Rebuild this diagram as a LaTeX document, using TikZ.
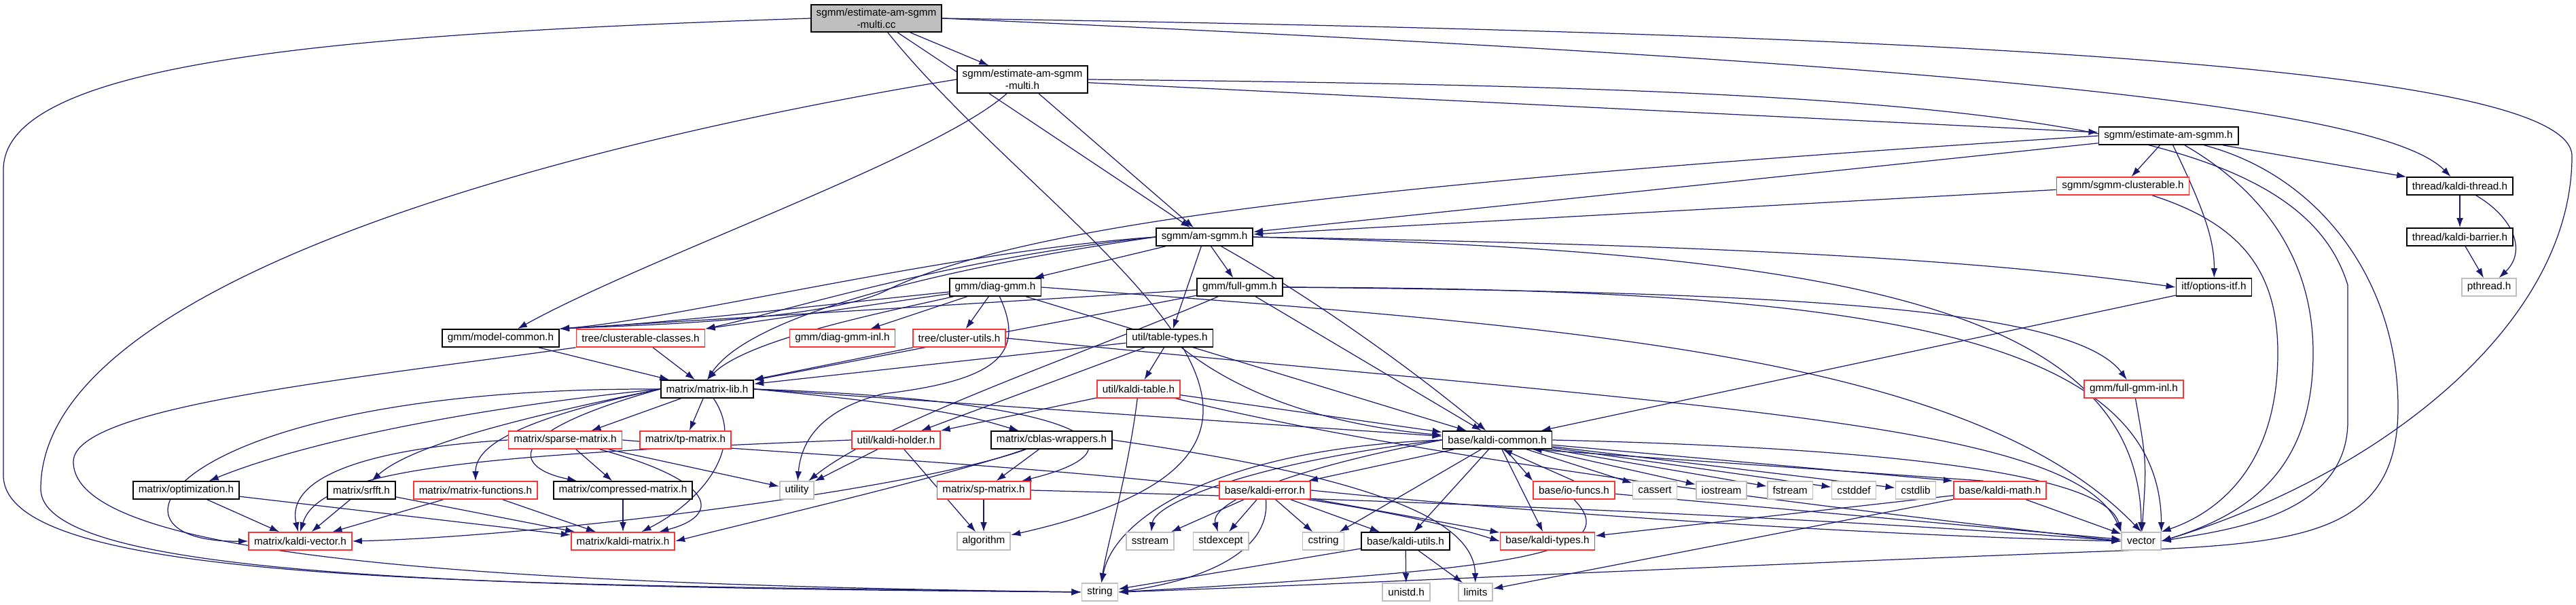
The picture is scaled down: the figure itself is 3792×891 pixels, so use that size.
\documentclass[tikz,border=0pt]{standalone}
\usepackage{fontspec}
\newfontfamily\dxfont{Liberation Sans}
\usepackage{tikz}
\usetikzlibrary{arrows.meta,positioning,calc,backgrounds}
\definecolor{edgeblue}{HTML}{191970}
\definecolor{truncred}{HTML}{FF3333}
\definecolor{sysgray}{HTML}{BFBFBF}

\begin{document}
\begin{tikzpicture}[
  x=0.02cm,y=-0.02cm,
  hdr/.style={draw=black,fill=white,line width=1pt,inner xsep=4.5pt,inner ysep=0pt,
    minimum height=14.7pt,font=\dxfont\fontsize{8.7}{10}\selectfont},
  trunc/.style={hdr,draw=truncred},
  sys/.style={hdr,draw=sysgray},
  root/.style={hdr,fill=sysgray,align=center,minimum height=22.7pt},
  arr/.style={-{Latex[length=8pt,width=5.5pt]},draw=edgeblue,line width=0.7pt}
]
\useasboundingbox (0,0) rectangle (3792,891);

% -------------------------
% Nodes, row by row
% -------------------------
\node[root] (cc) at (1290,27) {sgmm/estimate-am-sgmm\\-multi.cc};
\node[hdr,align=center,minimum height=22.7pt] (multih) at (1505,117) {sgmm/estimate-am-sgmm\\-multi.h};
\node[hdr] (estsgmm) at (3192,200) {sgmm/estimate-am-sgmm.h};
\node[trunc] (sgmmclust) at (3125,274) {sgmm/sgmm-clusterable.h};
\node[hdr] (kthread) at (3621,274) {thread/kaldi-thread.h};
\node[hdr] (amsgmm) at (1773,349) {sgmm/am-sgmm.h};
\node[hdr] (kbarrier) at (3621,349) {thread/kaldi-barrier.h};
\node[hdr] (diaggmm) at (1465,423) {gmm/diag-gmm.h};
\node[hdr] (fullgmm) at (1825,423) {gmm/full-gmm.h};
\node[hdr] (optitf) at (3259,423) {itf/options-itf.h};
\node[sys] (pthread) at (3664,423) {pthread.h};

\node[hdr] (modelcommon) at (737,498) {gmm/model-common.h};
\node[trunc] (clustclasses) at (943,498) {tree/clusterable-classes.h};
\node[trunc] (diaginl) at (1240,498) {gmm/diag-gmm-inl.h};
\node[trunc] (clustutils) at (1412,498) {tree/cluster-utils.h};
\node[hdr] (tabletypes) at (1722,498) {util/table-types.h};

\node[hdr] (matrixlib) at (1041,573) {matrix/matrix-lib.h};
\node[trunc] (kalditable) at (1676,573) {util/kaldi-table.h};
\node[trunc] (fullinl) at (3141,573) {gmm/full-gmm-inl.h};

\node[trunc] (sparse) at (832,648) {matrix/sparse-matrix.h};
\node[trunc] (tpmatrix) at (1009,648) {matrix/tp-matrix.h};
\node[trunc] (holder) at (1319,648) {util/kaldi-holder.h};
\node[hdr] (cblas) at (1548,648) {matrix/cblas-wrappers.h};
\node[hdr] (kcommon) at (2204,648) {base/kaldi-common.h};

\node[hdr] (optim) at (274,722) {matrix/optimization.h};
\node[hdr] (srfft) at (532,722) {matrix/srfft.h};
\node[trunc] (mfunc) at (700,722) {matrix/matrix-functions.h};
\node[hdr] (compressed) at (917,722) {matrix/compressed-matrix.h};
\node[sys] (utility) at (1173,722) {utility};
\node[trunc] (spmatrix) at (1448,722) {matrix/sp-matrix.h};
\node[trunc] (kerror) at (1862,722) {base/kaldi-error.h};
\node[trunc] (iofuncs) at (2317,722) {base/io-funcs.h};
\node[sys] (cassert) at (2436,722) {cassert};
\node[sys] (iostream) at (2534,722) {iostream};
\node[sys] (fstream) at (2635,722) {fstream};
\node[sys] (cstddef) at (2729,722) {cstddef};
\node[sys] (cstdlib) at (2820,722) {cstdlib};
\node[trunc] (kmath) at (2944,722) {base/kaldi-math.h};

\node[trunc] (kvector) at (442,797) {matrix/kaldi-vector.h};
\node[trunc] (kmatrix) at (917,797) {matrix/kaldi-matrix.h};
\node[sys] (algorithm) at (1448,797) {algorithm};
\node[sys] (sstream) at (1693,797) {sstream};
\node[sys] (stdexcept) at (1797,797) {stdexcept};
\node[sys] (cstring) at (1948,797) {cstring};
\node[hdr] (kutils) at (2069,797) {base/kaldi-utils.h};
\node[trunc] (ktypes) at (2278,797) {base/kaldi-types.h};
\node[sys] (vector) at (3152,797) {vector};

\node[sys] (string) at (1619,872) {string};
\node[sys] (unistd) at (2070,872) {unistd.h};
\node[sys] (limits) at (2172,872) {limits};

\begin{scope}[on background layer]
% -------------------------
% Source file and its headers
% -------------------------
\draw[arr] (cc) -- (multih);
\draw[arr] (cc) -- (amsgmm);
\draw[arr] (cc) .. controls (1550,350) and (2100,650) .. (algorithm);
\draw[arr] (cc.west) .. controls (500,50) and (5,90) .. (5,250) -- (5,700) .. controls (5,860) and (700,860) .. (string.west);
\draw[arr] (cc.east) .. controls (2800,90) and (3500,150) .. (kthread);
\draw[arr] (cc.east) .. controls (2900,50) and (3786,100) .. (3786,230) .. controls (3786,480) and (3500,700) .. (vector.east);

\draw[arr] (multih) -- (amsgmm);
\draw[arr] (multih) .. controls (1380,230) and (950,380) .. (modelcommon);
\draw[arr] (multih.west) .. controls (900,200) and (60,400) .. (60,720) .. controls (60,850) and (700,865) .. (string.west);
\draw[arr] (multih) -- (estsgmm);
\draw[arr] (multih.east) .. controls (2900,130) and (3380,170) .. (3456,420) -- (3456,620) .. controls (3456,760) and (3280,780) .. (vector.east);

\draw[arr] (estsgmm) -- (amsgmm);
\draw[arr] (estsgmm.west) .. controls (2000,270) and (1500,330) .. (1300,430) .. controls (1200,475) and (900,480) .. (modelcommon.north east);
\draw[arr] (estsgmm) -- (sgmmclust);
\draw[arr] (estsgmm) .. controls (3240,300) and (3260,350) .. (optitf);
\draw[arr] (estsgmm) -- (kthread);
\draw[arr] (estsgmm) .. controls (3330,280) and (3405,380) .. (3405,520) .. controls (3405,700) and (3300,760) .. (vector.east);
\draw[arr] (estsgmm) .. controls (3420,260) and (3530,420) .. (3530,600) .. controls (3530,780) and (3400,800) .. (3150,810) .. controls (2600,830) and (2000,860) .. (string.east);

\draw[arr] (sgmmclust) -- (amsgmm);
\draw[arr] (sgmmclust) .. controls (3300,330) and (3353,400) .. (3353,520) .. controls (3353,700) and (3250,760) .. (vector.north east);

\draw[arr] (kthread) -- (kbarrier);
\draw[arr] (kthread) .. controls (3700,320) and (3720,370) .. (pthread);
\draw[arr] (kbarrier) -- (pthread);
\draw[arr] (optitf) -- (kcommon);

% -------------------------
% Model headers
% -------------------------
\draw[arr] (amsgmm) -- (diaggmm);
\draw[arr] (amsgmm) -- (fullgmm);
\draw[arr] (amsgmm) -- (tabletypes);
\draw[arr] (amsgmm) .. controls (1900,420) and (2050,520) .. (kcommon);
\draw[arr] (amsgmm.east) .. controls (2500,360) and (2900,380) .. (optitf.west);
\draw[arr] (amsgmm.east) .. controls (2700,370) and (3150,450) .. (vector.north);
\draw[arr] (amsgmm.west) .. controls (1400,370) and (1000,470) .. (modelcommon.north east);
\draw[arr] (amsgmm.west) .. controls (1400,380) and (1150,460) .. (clustclasses.north east);
\draw[arr] (amsgmm.west) .. controls (1350,400) and (1100,470) .. (matrixlib.north);

\draw[arr] (diaggmm) .. controls (1200,450) and (1000,475) .. (modelcommon.north east);
\draw[arr] (diaggmm) -- (clustclasses.north east);
\draw[arr] (diaggmm) .. controls (1300,460) and (1100,500) .. (matrixlib.north);
\draw[arr] (diaggmm) -- (diaginl);
\draw[arr] (diaggmm) -- (clustutils);
\draw[arr] (diaggmm) -- (kcommon);
\draw[arr] (diaggmm.east) .. controls (2300,480) and (2900,520) .. (vector.north);
\draw[arr] (diaggmm) .. controls (1510,520) and (1470,560) .. (1300,580) .. controls (1220,600) and (1180,640) .. (utility);

\draw[arr] (fullgmm) -- (modelcommon.north east);
\draw[arr] (fullgmm) -- (matrixlib);
\draw[arr] (fullgmm.east) .. controls (2600,430) and (3050,450) .. (fullinl);
\draw[arr] (fullgmm.east) .. controls (2700,425) and (3180,480) .. (vector.north east);
\draw[arr] (fullgmm) -- (kcommon);
\draw[arr] (fullgmm) .. controls (1600,520) and (1300,620) .. (utility);
\draw[arr] (fullinl) .. controls (3160,680) .. (vector);

\draw[arr] (modelcommon) -- (matrixlib);
\draw[arr] (clustclasses) -- (matrixlib);
\draw[arr] (clustclasses.south west) .. controls (500,560) and (108,600) .. (108,680) .. controls (108,820) and (700,860) .. (string.west);
\draw[arr] (clustutils) -- (matrixlib);
\draw[arr] (clustutils.east) .. controls (2500,600) and (3050,620) .. (vector.north west);

% -------------------------
% Utility headers
% -------------------------
\draw[arr] (tabletypes) -- (matrixlib);
\draw[arr] (tabletypes) -- (kalditable);
\draw[arr] (tabletypes) -- (holder);
\draw[arr] (tabletypes) .. controls (1850,600) and (2000,630) .. (kcommon);

\draw[arr] (kalditable) -- (holder);
\draw[arr] (kalditable) -- (kcommon);
\draw[arr] (kalditable) .. controls (1660,700) and (1630,800) .. (string);
\draw[arr] (kalditable) .. controls (2100,680) and (2800,760) .. (vector.west);

\draw[arr] (holder) -- (algorithm);
\draw[arr] (holder.west) .. controls (700,670) and (470,690) .. (kvector.north);
\draw[arr] (holder) -- (utility);

\draw[arr] (cblas) -- (spmatrix);
\draw[arr] (cblas) .. controls (1400,700) and (1100,770) .. (kmatrix.east);
\draw[arr] (cblas) .. controls (1350,720) and (800,790) .. (kvector.east);
\draw[arr] (cblas.east) .. controls (2000,700) and (2170,760) .. (limits);

% -------------------------
% Matrix headers
% -------------------------
\draw[arr] (matrixlib) -- (sparse);
\draw[arr] (matrixlib) -- (tpmatrix);
\draw[arr] (matrixlib.west) .. controls (250,570) and (120,800) .. (kvector.west);
\draw[arr] (matrixlib) .. controls (1100,660) and (1030,740) .. (kmatrix);
\draw[arr] (matrixlib.west) .. controls (700,600) and (450,650) .. (optim);
\draw[arr] (matrixlib.west) .. controls (740,620) and (600,660) .. (srfft);
\draw[arr] (matrixlib.west) .. controls (750,620) and (700,660) .. (mfunc);
\draw[arr] (matrixlib.west) .. controls (730,640) and (760,690) .. (compressed);
\draw[arr] (matrixlib.east) .. controls (1400,600) and (1450,620) .. (cblas);
\draw[arr] (matrixlib.east) .. controls (1600,590) and (1700,660) .. (spmatrix);
\draw[arr] (matrixlib.east) -- (kcommon);

\draw[arr] (sparse) -- (compressed);
\draw[arr] (sparse) -- (utility);
\draw[arr] (sparse.west) .. controls (550,660) and (420,700) .. (kvector);
\draw[arr] (sparse) .. controls (1060,710) and (1060,760) .. (kmatrix);
\draw[arr] (sparse.east) .. controls (1300,680) and (1900,700) .. (ktypes.west);

\draw[arr] (optim) -- (kvector);
\draw[arr] (optim) -- (kmatrix);
\draw[arr] (srfft) -- (kvector);
\draw[arr] (srfft) -- (kmatrix);
\draw[arr] (mfunc) -- (kvector);
\draw[arr] (mfunc) -- (kmatrix);
\draw[arr] (compressed) -- (kmatrix);
\draw[arr] (spmatrix) -- (algorithm);
\draw[arr] (spmatrix.east) .. controls (2200,740) and (2800,770) .. (vector.west);

% -------------------------
% Base headers
% -------------------------
\draw[arr] (kcommon.west) .. controls (1800,660) and (1640,760) .. (string);
\draw[arr] (kcommon.west) .. controls (1850,680) and (1700,740) .. (sstream);
\draw[arr] (kcommon.west) .. controls (1900,690) and (1780,740) .. (stdexcept);
\draw[arr] (kcommon) -- (kerror);
\draw[arr] (kcommon) -- (cstring);
\draw[arr] (kcommon) -- (kutils);
\draw[arr] (kcommon) -- (ktypes);
\draw[arr] (kcommon) -- (iofuncs.north west);
\draw[arr] (iofuncs.north) -- (kcommon.-60);
\draw[arr] (kcommon) -- (cassert);
\draw[arr] (kcommon) -- (iostream);
\draw[arr] (kcommon) -- (fstream);
\draw[arr] (kcommon) -- (cstddef);
\draw[arr] (kcommon) -- (cstdlib);
\draw[arr] (kcommon) -- (kmath.north west);
\draw[arr] (kmath.150) -- (kcommon.-15);
\draw[arr] (kcommon.east) .. controls (2800,660) and (3100,700) .. (vector.north west);

\draw[arr] (iofuncs.south) .. controls (2400,820) and (2200,840) .. (string.east);
\draw[arr] (iofuncs) -- (vector);

\draw[arr] (kerror) -- (sstream);
\draw[arr] (kerror) -- (stdexcept);
\draw[arr] (kerror) -- (cstring);
\draw[arr] (kerror) -- (kutils);
\draw[arr] (kerror) -- (ktypes);
\draw[arr] (kerror) .. controls (1870,800) and (1800,850) .. (string.east);
\draw[arr] (kerror.east) .. controls (2300,760) and (2800,790) .. (vector.west);

\draw[arr] (kmath) -- (ktypes);
\draw[arr] (kmath) -- (limits);
\draw[arr] (kmath) -- (vector);

\draw[arr] (kutils) -- (string);
\draw[arr] (kutils) -- (unistd);
\draw[arr] (kutils) -- (limits);
\end{scope}

\end{tikzpicture}
\end{document}
